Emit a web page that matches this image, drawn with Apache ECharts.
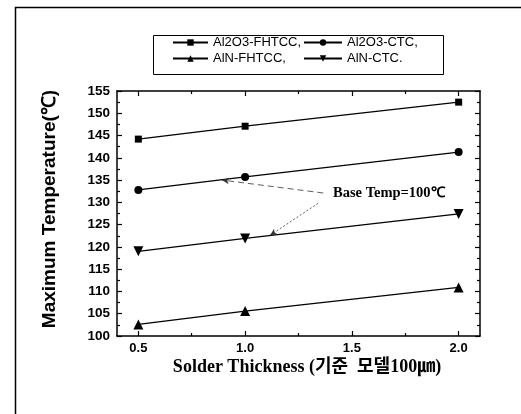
<!DOCTYPE html>
<html>
<head>
<meta charset="utf-8">
<script src="https://cdn.jsdelivr.net/npm/echarts@6/dist/echarts.min.js"></script>
<style>html,body{margin:0;padding:0;background:#fff;}#c{width:521px;height:414px;}</style>
</head>
<body>
<div id="c"></div>
<script>
// ---- data ----
const thickness = [0.5, 1.0, 2.0];
const al2o3Fhtcc = [144.2, 147.1, 152.5];
const al2o3Ctc = [132.8, 135.7, 141.3];
const alnFhtcc = [102.6, 105.6, 110.9];
const alnCtc = [119.0, 121.9, 127.4];
const seriesNames = ['Al2O3-FHTCC,', 'Al2O3-CTC,', 'AlN-FHTCC,', 'AlN-CTC.'];
const xMajorTicks = [0.5, 1.0, 1.5, 2.0];
const xMinorTicks = [0.75, 1.25, 1.75];
const annotationText = 'Base Temp=100\u2103';
const yTitle = 'Maximum Temperature(\u2103)';
const xTitle = 'Solder Thickness (\uAE30\uC900  \uBAA8\uB378100\u339B)';
// annotation arrows in data coords [from, to]
const arrow1 = [[1.366, 132.1], [0.892, 135.0]];
const arrow2 = [[1.342, 129.8], [1.117, 122.6]];

const pair = (xs, ys) => xs.map((x, i) => [x, ys[i]]);
const downTri = 'path://M0,0 L10,0 L5,9 Z';
const upTri = 'path://M5,0 L10,9 L0,9 Z';

const chart = echarts.init(document.getElementById('c'));
const lineStyle = { color: '#000', width: 1.3 };
const itemStyle = { color: '#000' };
const font = 'Liberation Sans, Arial, sans-serif';

function mkSeries(name, ys, symbol, size, extra) {
  return Object.assign({
    name: name, type: 'line', data: pair(thickness, ys),
    symbol: symbol, symbolSize: size, showSymbol: true,
    lineStyle: lineStyle, itemStyle: itemStyle,
    animation: false, z: 3
  }, extra || {});
}

const arrowLine = (pts, type) => ({
  symbol: ['none', 'arrow'], symbolSize: [5, 7], silent: true,
  label: { show: false },
  lineStyle: { color: '#333', width: 0.8, type: type },
  data: [[{ coord: pts[0] }, { coord: pts[1] }]]
});

const legendText = { fontFamily: font, fontSize: 13, color: '#000' };

const option = {
  backgroundColor: '#fff',
  animation: false,
  grid: { left: 117, top: 91, width: 363, height: 245, containLabel: false },
  legend: [
    {
      orient: 'vertical', left: 167, top: 31, itemWidth: 35, itemHeight: 8, itemGap: 3,
      data: [seriesNames[0], seriesNames[2]], textStyle: legendText
    },
    {
      orient: 'vertical', left: 298, top: 31, itemWidth: 38, itemHeight: 8, itemGap: 3,
      data: [seriesNames[1], seriesNames[3]], textStyle: legendText
    }
  ],
  xAxis: [
    {
      type: 'value', position: 'bottom', min: 0.4, max: 2.1,
      axisLine: { show: true, lineStyle: { color: '#000', width: 1.5 } },
      axisTick: { show: true, inside: true, length: 5, customValues: xMajorTicks, lineStyle: { color: '#000', width: 1.2 } },
      axisLabel: { show: true, customValues: xMajorTicks, formatter: v => v.toFixed(1), fontFamily: font, fontWeight: 'bold', fontSize: 13, color: '#000', margin: 6 },
      splitLine: { show: false }
    },
    {
      type: 'value', position: 'bottom', min: 0.4, max: 2.1,
      axisLine: { show: false },
      axisTick: { show: true, inside: true, length: 3, customValues: xMinorTicks, lineStyle: { color: '#000', width: 1.2 } },
      axisLabel: { show: false }, splitLine: { show: false }
    },
    {
      type: 'value', position: 'top', min: 0.4, max: 2.1,
      axisLine: { show: true, lineStyle: { color: '#000', width: 1.5 } },
      axisTick: { show: true, inside: true, length: 5, customValues: xMajorTicks, lineStyle: { color: '#000', width: 1.2 } },
      axisLabel: { show: false }, splitLine: { show: false }
    },
    {
      type: 'value', position: 'top', min: 0.4, max: 2.1,
      axisLine: { show: false },
      axisTick: { show: true, inside: true, length: 3, customValues: xMinorTicks, lineStyle: { color: '#000', width: 1.2 } },
      axisLabel: { show: false }, splitLine: { show: false }
    }
  ],
  yAxis: [
    {
      type: 'value', position: 'left', min: 100, max: 155, interval: 5,
      axisLine: { show: true, lineStyle: { color: '#000', width: 1.5 } },
      axisTick: { show: true, inside: true, length: 5, lineStyle: { color: '#000', width: 1.2 } },
      minorTick: { show: true, splitNumber: 2, length: 3, lineStyle: { color: '#000', width: 1.2 } },
      axisLabel: { fontFamily: font, fontWeight: 'bold', fontSize: 13.5, color: '#000', margin: 7 },
      splitLine: { show: false }
    },
    {
      type: 'value', position: 'right', min: 100, max: 155, interval: 5,
      axisLine: { show: true, lineStyle: { color: '#000', width: 1.5 } },
      axisTick: { show: true, inside: true, length: 5, lineStyle: { color: '#000', width: 1.2 } },
      minorTick: { show: true, splitNumber: 2, length: 3, lineStyle: { color: '#000', width: 1.2 } },
      axisLabel: { show: false },
      splitLine: { show: false }
    }
  ],
  series: [
    mkSeries(seriesNames[0], al2o3Fhtcc, 'rect', 7),
    mkSeries(seriesNames[1], al2o3Ctc, 'circle', 8, { markLine: arrowLine(arrow1, [6, 4]) }),
    mkSeries(seriesNames[2], alnFhtcc, upTri, 10),
    mkSeries(seriesNames[3], alnCtc, downTri, 10, { markLine: arrowLine(arrow2, [2, 2]) })
  ],
  graphic: [
    { type: 'rect', left: 13, top: 5, shape: { x: 0, y: 0, width: 520, height: 420 }, style: { fill: 'none', stroke: '#000', lineWidth: 1.5 }, silent: true },
    { type: 'rect', left: 151, top: 33, shape: { x: 0, y: 0, width: 290, height: 39 }, style: { fill: 'none', stroke: '#000', lineWidth: 1 }, silent: true, z: 10 },
    { type: 'text', x: 333, y: 193, style: { text: annotationText, font: 'bold 14.5px "Liberation Serif", serif', fill: '#000', verticalAlign: 'middle' }, z: 10 },
    { type: 'text', x: 50, y: 209, rotation: Math.PI / 2, style: { text: yTitle, font: 'bold 19px "Liberation Sans", Arial, sans-serif', fill: '#000', align: 'center', verticalAlign: 'middle' }, z: 10 },
    { type: 'text', x: 307, y: 367, style: { text: xTitle, font: 'bold 18px "Liberation Serif", "Noto Sans CJK KR", serif', fill: '#000', align: 'center', verticalAlign: 'middle' }, z: 10 }
  ]
};
chart.setOption(option);
</script>
</body>
</html>
